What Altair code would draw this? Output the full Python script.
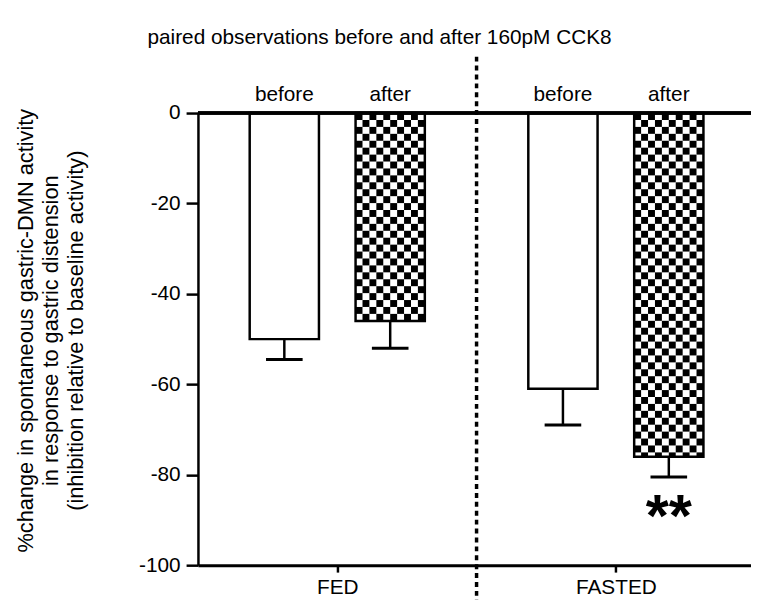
import altair as alt
import pandas as pd
import numpy as np

# ---- data ----
groups = ["FED", "FASTED"]
conditions = ["before", "after"]
means = [-50, -46, -61, -76]
sems = [4.5, 6, 8, 4.5]
sig_marks = ["", "", "", "**"]
group_pos = [1, 3]
separator_pos = [2]
y_ticks = [-100, -80, -60, -40, -20, 0]
title_text = "paired observations before and after 160pM CCK8"
y_title = [
    "%change in spontaneous gastric-DMN activity",
    "in response to gastric distension",
    "(inhibition relative to baseline activity)",
]

# ---- layout / style ----
W, H = 559, 457
XMAX = 3.97
PX = W / XMAX
PY = H / 100.0
bar_offset = [-0.38, 0.38]
half_w = 35 / PX
cap_w = 18.5 / PX
FONT = "Liberation Sans"
FS = 21

rows = []
k = 0
for gi, g in enumerate(groups):
    for ci, c in enumerate(conditions):
        xc = group_pos[gi] + bar_offset[ci]
        rows.append(dict(group=g, cond=c, x=xc, x0=xc - half_w, x1=xc + half_w,
                         mean=means[k], low=means[k] - sems[k],
                         c0=xc - cap_w, c1=xc + cap_w, sig=sig_marks[k], zero=0))
        k += 1
df = pd.DataFrame(rows)

# checkerboard pattern cells for the "after" bars
cell = 7
cells = []
for r in rows:
    if r["cond"] != "after":
        continue
    nx = int(np.ceil((r["x1"] - r["x0"]) * PX / cell))
    ny = int(np.ceil(-r["mean"] * PY / cell))
    for i in range(nx):
        for j in range(ny):
            if (i + j) % 2:
                continue
            xa = r["x0"] + i * cell / PX
            xb = min(r["x0"] + (i + 1) * cell / PX, r["x1"])
            ya = -j * cell / PY
            yb = max(-(j + 1) * cell / PY, r["mean"])
            cells.append(dict(xa=xa, xb=xb, ya=ya, yb=yb))
cells_df = pd.DataFrame(cells)

label_expr = "datum.value == %s ? '%s' : '%s'" % (group_pos[0], groups[0], groups[1])

xscale = alt.Scale(domain=[0, XMAX], nice=False, zero=False)
yscale = alt.Scale(domain=[-100, 0], nice=False)

xaxis = alt.Axis(values=group_pos, labelExpr=label_expr, title=None, grid=False,
                 tickSize=7, tickWidth=2.5, tickColor="black", domainWidth=3,
                 domainColor="black", labelFontSize=FS, labelFont=FONT,
                 labelColor="black", labelPadding=5)
yaxis = alt.Axis(values=y_ticks, labelExpr="toString(datum.value)", title=y_title,
                 grid=False, tickSize=12,
                 tickWidth=2.5, tickColor="black", domainWidth=2.5,
                 domainColor="black", labelFontSize=FS, labelFont=FONT,
                 labelColor="black", labelPadding=6, titleFontSize=22,
                 titleFont=FONT, titleFontWeight="normal", titleColor="black",
                 titleAngle=270, titleX=-174, titleY=H / 2 - 9,
                 titleBaseline="middle", titleAlign="center", titleLineHeight=25)

base = alt.Chart(df)

bars_fill = base.mark_rect(fill="white", strokeWidth=0).encode(
    x=alt.X("x0:Q", scale=xscale, axis=xaxis), x2="x1:Q",
    y=alt.Y("zero:Q", scale=yscale, axis=yaxis), y2="mean:Q")

checker = alt.Chart(cells_df).mark_rect(fill="black", strokeWidth=0).encode(
    x=alt.X("xa:Q", scale=xscale, axis=xaxis), x2="xb:Q",
    y=alt.Y("ya:Q", scale=yscale, axis=yaxis), y2="yb:Q")

outline = base.mark_rect(fill="white", fillOpacity=0, stroke="black", strokeWidth=2.5).encode(
    x=alt.X("x0:Q", scale=xscale, axis=xaxis), x2="x1:Q",
    y=alt.Y("zero:Q", scale=yscale, axis=yaxis), y2="mean:Q")

stem = base.mark_rule(color="black", strokeWidth=2.5).encode(
    x=alt.X("x:Q", scale=xscale, axis=xaxis),
    y=alt.Y("mean:Q", scale=yscale, axis=yaxis), y2="low:Q")

caps = base.mark_rule(color="black", strokeWidth=3).encode(
    x=alt.X("c0:Q", scale=xscale, axis=xaxis), x2="c1:Q",
    y=alt.Y("low:Q", scale=yscale, axis=yaxis))

zero_line = base.mark_rule(color="black", strokeWidth=3).encode(
    y=alt.Y("zero:Q", scale=yscale, axis=yaxis))

sep = alt.Chart(pd.DataFrame({"s": separator_pos})).mark_rule(
    color="black", strokeWidth=3.5, strokeDash=[5, 4]).encode(
    x=alt.X("s:Q", scale=xscale, axis=xaxis),
    y=alt.value(-57), y2=alt.value(H + 40))

cond_labels = base.mark_text(font=FONT, fontSize=FS, color="black",
                             baseline="middle", dy=-18).encode(
    x=alt.X("x:Q", scale=xscale, axis=xaxis),
    y=alt.Y("zero:Q", scale=yscale, axis=yaxis), text="cond:N")

sig = base.mark_text(font=FONT, fontSize=60, fontWeight="bold", color="black",
                     baseline="top", dy=13).encode(
    x=alt.X("x:Q", scale=xscale, axis=xaxis),
    y=alt.Y("low:Q", scale=yscale, axis=yaxis), text="sig:N")

chart = alt.layer(bars_fill, checker, outline, stem, caps, zero_line, sep,
                  cond_labels, sig).properties(
    width=W, height=H,
    title=alt.TitleParams(title_text, font=FONT, fontSize=21,
                          fontWeight="normal", color="black", anchor="middle",
                          dx=-96, baseline="alphabetic", offset=-10),
    autosize=alt.AutoSizeParams(type="none"),
    padding={"left": 192, "top": 103, "right": 0, "bottom": 32},
).configure_view(stroke=None).configure(background="white")

chart.save("out.html", embed_options={"renderer": "svg", "actions": False})
